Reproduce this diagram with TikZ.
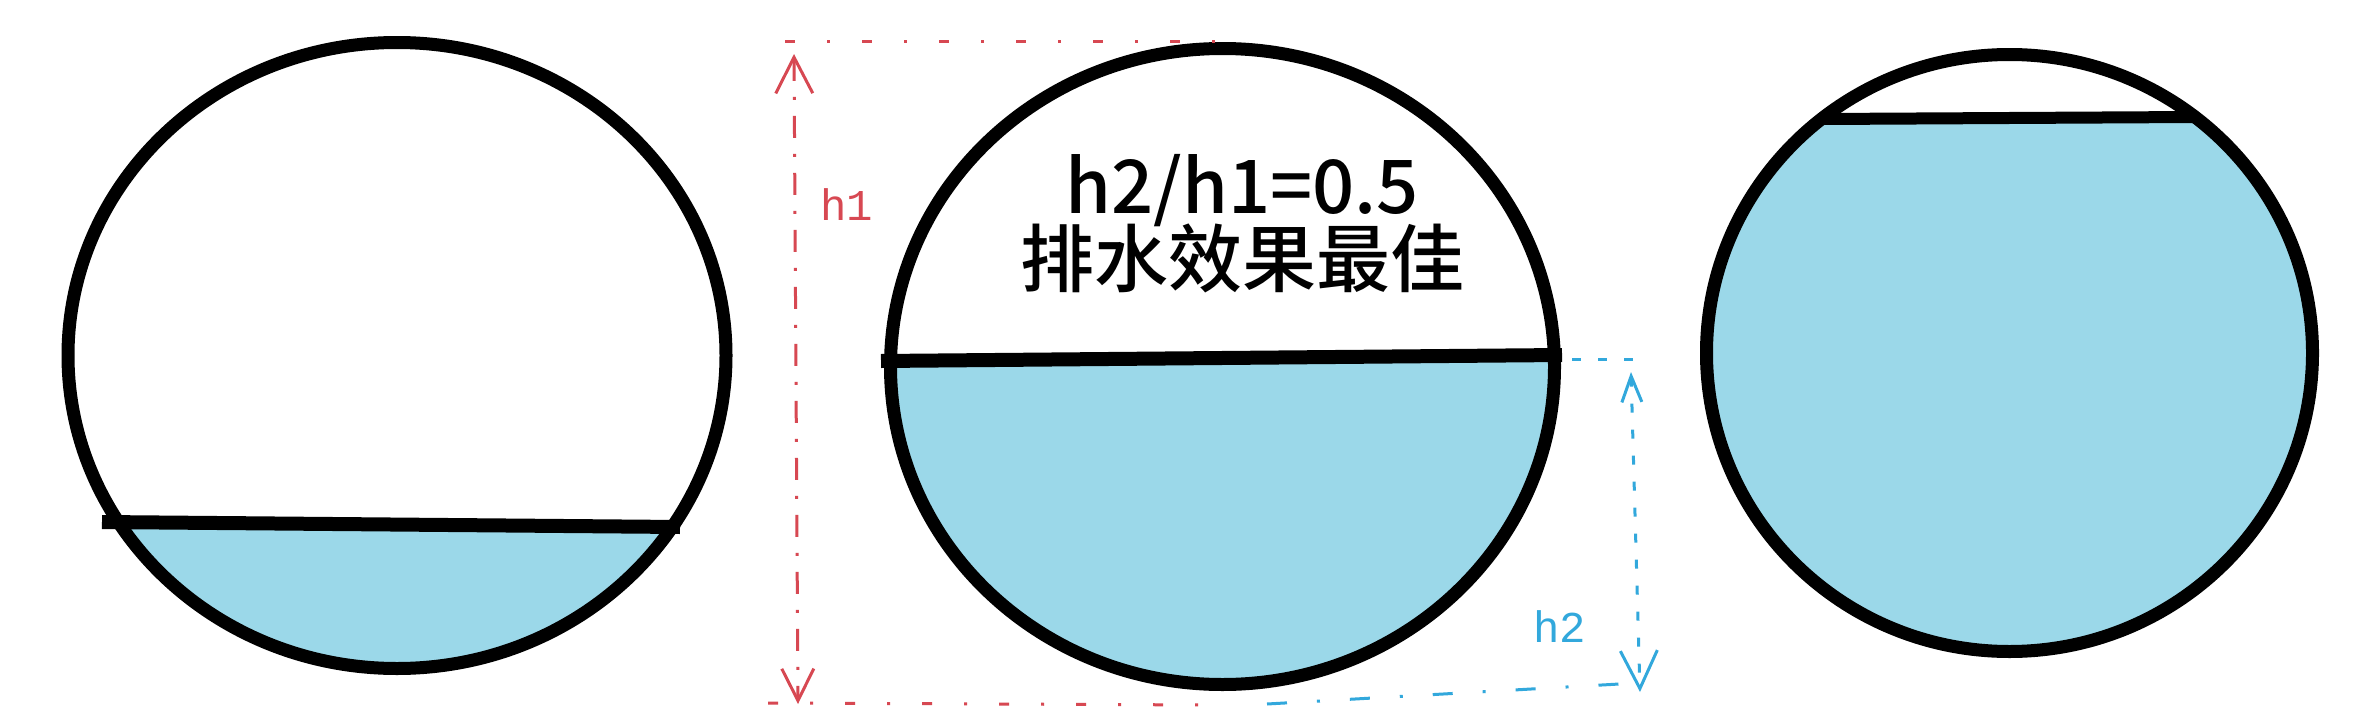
\documentclass[tikz,border=0pt]{standalone}
\usepackage{fontspec}
\newfontfamily\cjkfont{Noto Sans CJK SC Medium}
\newfontfamily\dimfont{Liberation Mono}
\usetikzlibrary{arrows.meta}
\definecolor{water}{RGB}{155,216,233}
\definecolor{dimred}{RGB}{215,72,82}
\definecolor{dimblue}{RGB}{50,168,220}
\begin{document}
\begin{tikzpicture}[x=1pt,y=-1pt,
  pipe/.style={draw=black,line width=13pt},
  level/.style={draw=black,line width=14pt},
  reddash/.style={draw=dimred,line width=3pt,dash pattern=on 10pt off 32pt on 3pt off 32pt},
  redvert/.style={draw=dimred,line width=3pt,dash pattern=on 22pt off 16pt on 3pt off 16pt},
  bluedash/.style={draw=dimblue,line width=3pt,dash pattern=on 9pt off 17pt},
  bluehor/.style={draw=dimblue,line width=3pt,dash pattern=on 20pt off 30pt on 3pt off 30pt},
  dimlabel/.style={font=\dimfont\fontsize{44pt}{44pt}\selectfont,anchor=base west,inner sep=0pt},
  bigtext/.style={font=\cjkfont\fontsize{74pt}{74pt}\selectfont,anchor=base,inner sep=0pt}
]
\fill[white] (0,0) rectangle (2375,712);
\useasboundingbox (0,0) rectangle (2375,712);

% left pipe
\begin{scope}
  \clip (397,355.5) ellipse [x radius=329pt,y radius=313pt];
  \fill[water] (0,523) -- (800,528) -- (800,712) -- (0,712) -- cycle;
\end{scope}
\draw[pipe] (397,355.5) ellipse [x radius=329pt,y radius=313pt];
\draw[level] (102,522) -- (680,527);

% middle pipe
\begin{scope}
  \clip (1222.5,366.5) ellipse [x radius=332pt,y radius=318pt];
  \fill[water] (860,361) -- (1580,355) -- (1580,712) -- (860,712) -- cycle;
\end{scope}
\draw[pipe] (1222.5,366.5) ellipse [x radius=332pt,y radius=318pt];
\draw[level] (881,361) -- (1562,355);

% right pipe
\begin{scope}
  \clip (2009.5,353) ellipse [x radius=303pt,y radius=298.5pt];
  \fill[water] (1690,118) -- (2330,118) -- (2330,712) -- (1690,712) -- cycle;
\end{scope}
\draw[pipe] (2009.5,353) ellipse [x radius=303pt,y radius=298.5pt];
\draw[draw=black,line width=12pt] (1823,119) -- (2195,117);

% text
\node[bigtext] (t1) at (1242,213) {h2/h1=0.5};
\node[bigtext] (t2) at (1242,286) {排水效果最佳};

% h1 dimension (red)
\coordinate (r1) at (785,41);
\coordinate (r2) at (1216,41);
\coordinate (r3) at (768,703);
\coordinate (r4) at (1212,705);
\coordinate (rt) at (794,54);
\coordinate (rb) at (798,704);
\draw[reddash] (r1) -- (r2);
\draw[reddash] (r3) -- (r4);
\draw[redvert,{Straight Barb[length=36pt,width=37pt,line width=3pt]}-{Straight Barb[length=32pt,width=32pt,line width=3pt]}] (rt) -- (rb);
\node[dimlabel,text=dimred] (h1) at (820,220) {h1};

% h2 dimension (blue)
\coordinate (b1) at (1572,359);
\coordinate (b2) at (1636,359);
\coordinate (b3) at (1267,704);
\coordinate (b4) at (1637,683);
\coordinate (bt) at (1631,372);
\coordinate (bb) at (1640,692);
\draw[bluedash] (b1) -- (b2);
\draw[bluehor] (b3) -- (b4);
\draw[bluedash,{Straight Barb[length=26pt,width=20pt,line width=3pt]}-{Straight Barb[length=38pt,width=37pt,line width=3pt]}] (bt) -- (bb);
\node[dimlabel,text=dimblue] (h2) at (1533,642) {h2};
\end{tikzpicture}
\end{document}
